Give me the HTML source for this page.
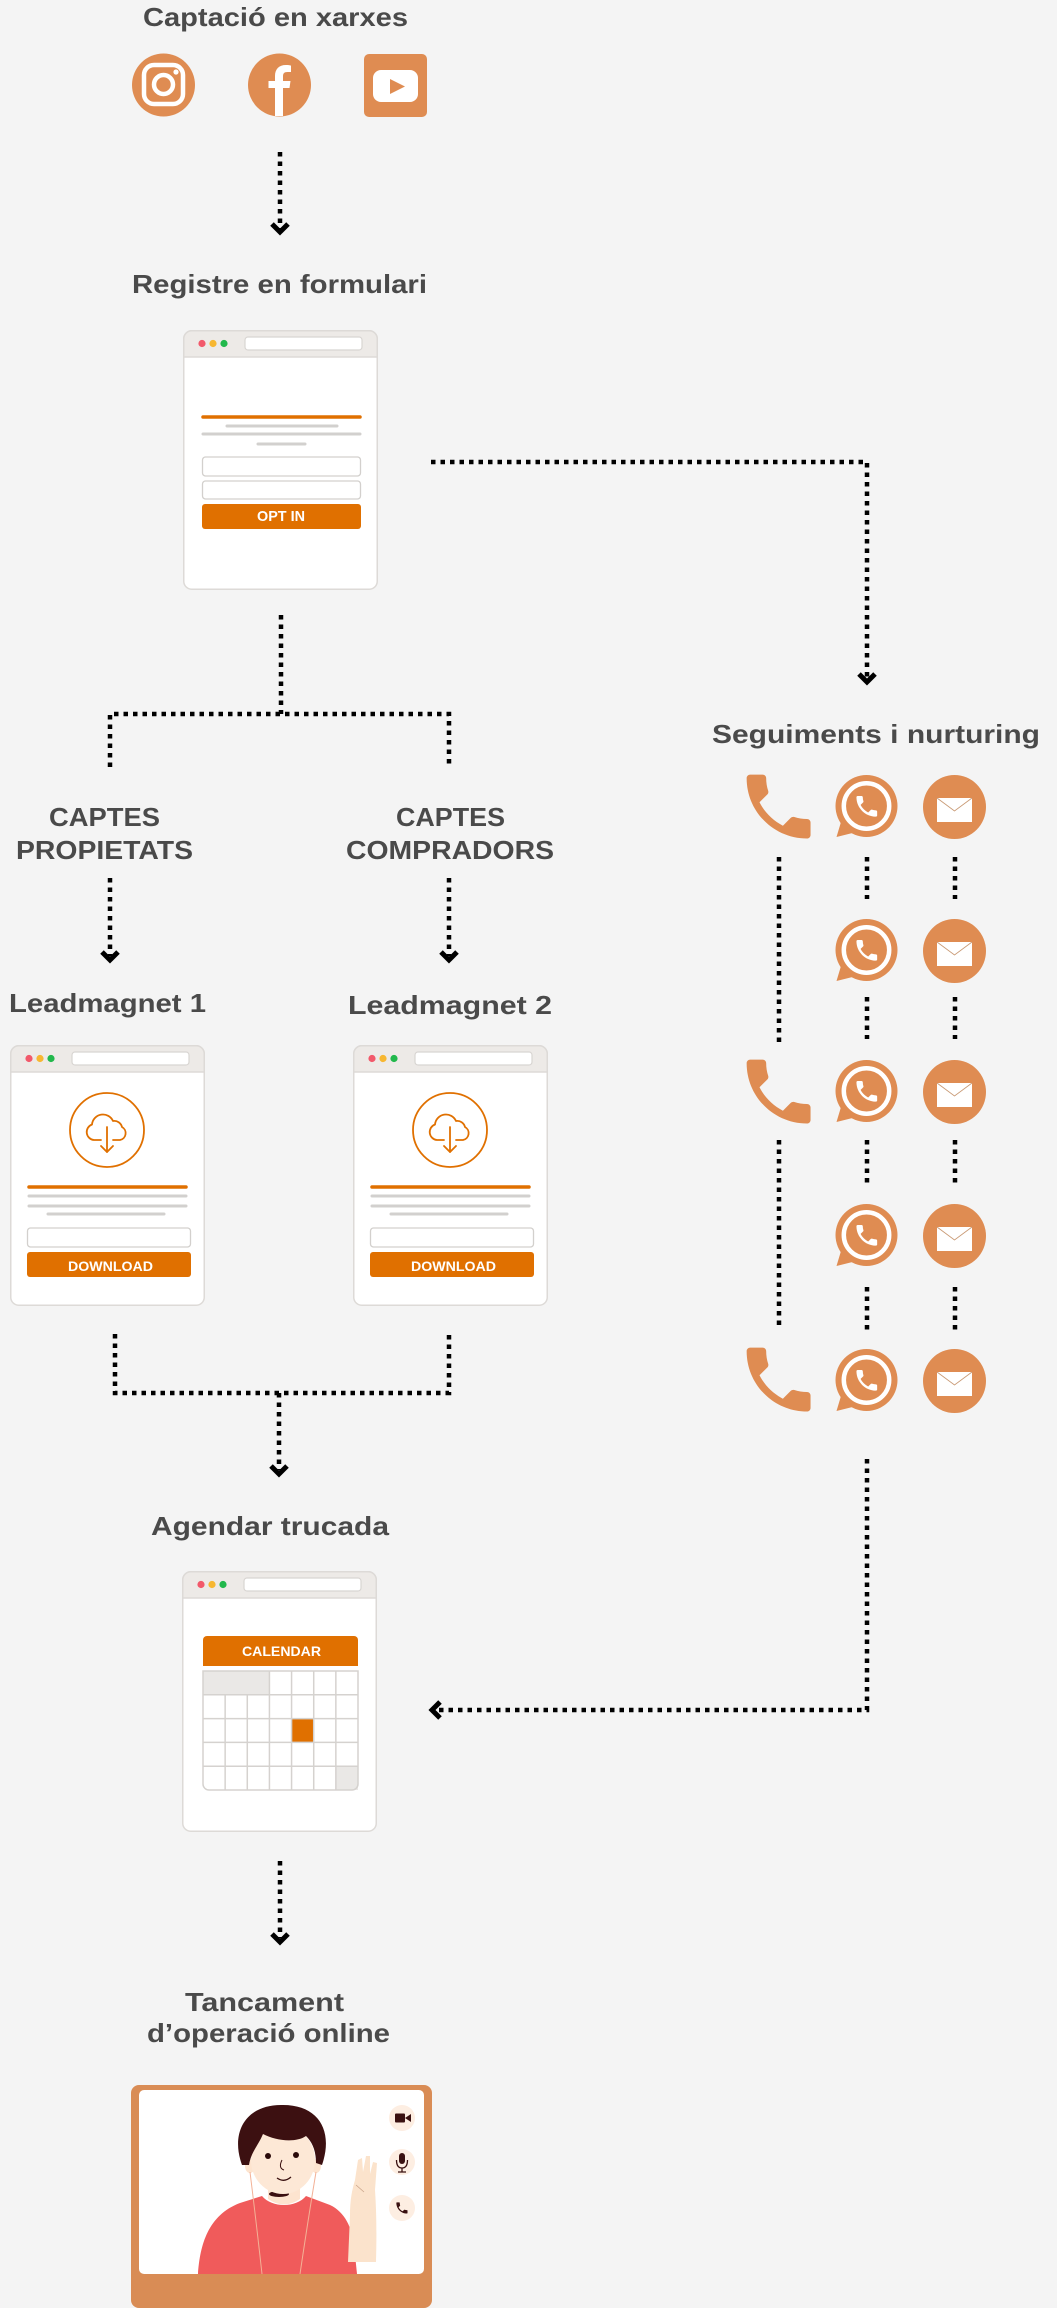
<!DOCTYPE html>
<html>
<head>
<meta charset="utf-8">
<style>
html,body{margin:0;padding:0;background:#f4f4f4;}
body{width:1057px;height:2308px;overflow:hidden;}
svg{display:block;}
.t{font-family:"Liberation Sans",Arial,sans-serif;font-weight:bold;font-size:26px;fill:#4a4a4a;}
.bt{font-family:"Liberation Sans",Arial,sans-serif;font-weight:bold;fill:#ffffff;}
.d{fill:none;stroke:#000;stroke-width:4.5;stroke-dasharray:4.5 5;}
.c{fill:none;stroke:#000;stroke-width:5;stroke-linejoin:miter;stroke-linecap:butt;}
.o{fill:#df8c52;}
.gl{stroke:#d2d0ce;stroke-width:3;stroke-linecap:round;}
.ol{stroke:#e07000;stroke-width:3.5;stroke-linecap:round;}
.inp{fill:#fff;stroke:#d3d0cd;stroke-width:1.3;}
.btn{fill:#e07000;}
</style>
</head>
<body>
<svg width="1057" height="2308" viewBox="0 0 1057 2308" xmlns="http://www.w3.org/2000/svg">
<rect x="0" y="0" width="1057" height="2308" fill="#f4f4f4"/>

<!-- ===== Title 1 ===== -->
<text class="t" x="143" y="26" textLength="265" lengthAdjust="spacingAndGlyphs">Captació en xarxes</text>

<!-- Instagram -->
<circle class="o" cx="163.5" cy="85" r="31.5"/>
<rect x="144" y="65" width="39" height="39" rx="10" fill="none" stroke="#fff" stroke-width="4.5"/>
<circle cx="163.5" cy="84.5" r="9.5" fill="none" stroke="#fff" stroke-width="4.5"/>
<circle cx="176" cy="72" r="2.6" fill="#fff"/>

<!-- Facebook -->
<circle class="o" cx="279.5" cy="85" r="31.5"/>
<path d="M275 116 V88 H268.5 V81 H275 V76 C275 69 279 65 286 65 C288 65 290 65.3 291 65.6 V72 H287.5 C284 72 283 73.5 283 76.5 V81 H290.5 L289.5 88 H283 V116 Z" fill="#fff"/>

<!-- YouTube -->
<rect class="o" x="364" y="54" width="63" height="63" rx="5"/>
<rect x="373" y="70" width="45" height="32" rx="8" fill="#fff"/>
<path d="M390 79 L405 86.5 L390 94 Z" fill="#df8c52"/>

<!-- Arrow 1 -->
<path class="d" d="M280 152 V229"/>
<polyline class="c" points="272,224 280,232 288,224"/>

<!-- ===== Registre en formulari ===== -->
<text class="t" x="132" y="293" textLength="295" lengthAdjust="spacingAndGlyphs">Registre en formulari</text>

<g transform="translate(183,330)">
  <rect x="0.75" y="0.75" width="193.5" height="258.5" rx="8" fill="#fff" stroke="#dddad7" stroke-width="1.5"/>
  <path d="M0.75 27 V8.75 A8 8 0 0 1 8.75 0.75 H186.25 A8 8 0 0 1 194.25 8.75 V27 Z" fill="#edeae7" stroke="#dddad7" stroke-width="1.5"/>
  <circle cx="19" cy="13.5" r="3.6" fill="#f2596b"/>
  <circle cx="30" cy="13.5" r="3.6" fill="#f7b731"/>
  <circle cx="41" cy="13.5" r="3.6" fill="#22b84c"/>
  <rect x="62" y="7" width="117" height="13" rx="3" fill="#fff" stroke="#d8d5d2" stroke-width="1.2"/>
  <line class="ol" x1="20" y1="87" x2="177" y2="87"/>
  <line class="gl" x1="44" y1="96" x2="154" y2="96"/>
  <line class="gl" x1="20" y1="104" x2="177" y2="104"/>
  <line class="gl" x1="75" y1="114" x2="122" y2="114"/>
  <rect class="inp" x="19.5" y="127" width="158" height="19" rx="3"/>
  <rect class="inp" x="19.5" y="151" width="158" height="18" rx="3"/>
  <rect class="btn" x="19" y="174" width="159" height="25" rx="3"/>
  <text class="bt" x="74" y="191" font-size="15" textLength="48" lengthAdjust="spacingAndGlyphs">OPT IN</text>
</g>

<!-- Form -> nurturing connector -->
<path class="d" d="M431 462 H867 V678"/>
<polyline class="c" points="859,674 867,682 875,674"/>

<!-- Form -> split connector -->
<path class="d" d="M281 615 V714"/>
<path class="d" d="M110 767 V714 H449 V767"/>

<!-- ===== CAPTES labels ===== -->
<text class="t" x="49" y="826" textLength="111" lengthAdjust="spacingAndGlyphs">CAPTES</text>
<text class="t" x="16" y="859" textLength="177" lengthAdjust="spacingAndGlyphs">PROPIETATS</text>
<text class="t" x="396" y="826" textLength="109" lengthAdjust="spacingAndGlyphs">CAPTES</text>
<text class="t" x="346" y="859" textLength="208" lengthAdjust="spacingAndGlyphs">COMPRADORS</text>

<path class="d" d="M110 878 V956"/>
<polyline class="c" points="102,952 110,960 118,952"/>
<path class="d" d="M449 878 V956"/>
<polyline class="c" points="441,952 449,960 457,952"/>

<!-- ===== Leadmagnets ===== -->
<text class="t" x="9" y="1012" textLength="197" lengthAdjust="spacingAndGlyphs">Leadmagnet 1</text>
<text class="t" x="348" y="1014" textLength="204" lengthAdjust="spacingAndGlyphs">Leadmagnet 2</text>

<g transform="translate(10,1045)">
  <rect x="0.75" y="0.75" width="193.5" height="259.5" rx="8" fill="#fff" stroke="#dddad7" stroke-width="1.5"/>
  <path d="M0.75 27 V8.75 A8 8 0 0 1 8.75 0.75 H186.25 A8 8 0 0 1 194.25 8.75 V27 Z" fill="#edeae7" stroke="#dddad7" stroke-width="1.5"/>
  <circle cx="19" cy="13.5" r="3.6" fill="#f2596b"/>
  <circle cx="30" cy="13.5" r="3.6" fill="#f7b731"/>
  <circle cx="41" cy="13.5" r="3.6" fill="#22b84c"/>
  <rect x="62" y="7" width="117" height="13" rx="3" fill="#fff" stroke="#d8d5d2" stroke-width="1.2"/>
  <circle cx="97" cy="85" r="37" fill="none" stroke="#e07000" stroke-width="1.8"/>
  <g transform="translate(97,85)" fill="none" stroke="#e07000" stroke-width="1.8" stroke-linecap="round" stroke-linejoin="round">
    <path d="M-6 10 H-13 A8 8 0 0 1 -15 -5.5 A11 11 0 0 1 6 -9 A8 8 0 0 1 15 -3 A7 7 0 0 1 13 10 H6"/>
    <path d="M0 -3 V22"/>
    <path d="M-6 16 L0 22 L6 16"/>
  </g>
  <line class="ol" x1="19" y1="142" x2="176" y2="142"/>
  <line class="gl" x1="19" y1="151" x2="176" y2="151"/>
  <line class="gl" x1="19" y1="161" x2="176" y2="161"/>
  <line class="gl" x1="38" y1="169" x2="154" y2="169"/>
  <rect class="inp" x="17.5" y="183" width="163" height="19" rx="3"/>
  <rect class="btn" x="17" y="207" width="164" height="25" rx="3"/>
  <text class="bt" x="58" y="226" font-size="14" textLength="85" lengthAdjust="spacingAndGlyphs">DOWNLOAD</text>
</g>

<g transform="translate(353,1045)">
  <rect x="0.75" y="0.75" width="193.5" height="259.5" rx="8" fill="#fff" stroke="#dddad7" stroke-width="1.5"/>
  <path d="M0.75 27 V8.75 A8 8 0 0 1 8.75 0.75 H186.25 A8 8 0 0 1 194.25 8.75 V27 Z" fill="#edeae7" stroke="#dddad7" stroke-width="1.5"/>
  <circle cx="19" cy="13.5" r="3.6" fill="#f2596b"/>
  <circle cx="30" cy="13.5" r="3.6" fill="#f7b731"/>
  <circle cx="41" cy="13.5" r="3.6" fill="#22b84c"/>
  <rect x="62" y="7" width="117" height="13" rx="3" fill="#fff" stroke="#d8d5d2" stroke-width="1.2"/>
  <circle cx="97" cy="85" r="37" fill="none" stroke="#e07000" stroke-width="1.8"/>
  <g transform="translate(97,85)" fill="none" stroke="#e07000" stroke-width="1.8" stroke-linecap="round" stroke-linejoin="round">
    <path d="M-6 10 H-13 A8 8 0 0 1 -15 -5.5 A11 11 0 0 1 6 -9 A8 8 0 0 1 15 -3 A7 7 0 0 1 13 10 H6"/>
    <path d="M0 -3 V22"/>
    <path d="M-6 16 L0 22 L6 16"/>
  </g>
  <line class="ol" x1="19" y1="142" x2="176" y2="142"/>
  <line class="gl" x1="19" y1="151" x2="176" y2="151"/>
  <line class="gl" x1="19" y1="161" x2="176" y2="161"/>
  <line class="gl" x1="38" y1="169" x2="154" y2="169"/>
  <rect class="inp" x="17.5" y="183" width="163" height="19" rx="3"/>
  <rect class="btn" x="17" y="207" width="164" height="25" rx="3"/>
  <text class="bt" x="58" y="226" font-size="14" textLength="85" lengthAdjust="spacingAndGlyphs">DOWNLOAD</text>
</g>

<!-- LM -> agendar connector -->
<path class="d" d="M115 1334 V1393 H449 V1334"/>
<path class="d" d="M279 1393 V1470"/>
<polyline class="c" points="271,1466 279,1474 287,1466"/>

<!-- ===== Seguiments i nurturing ===== -->
<text class="t" x="712" y="743" textLength="328" lengthAdjust="spacingAndGlyphs">Seguiments i nurturing</text>

<!-- column connectors -->
<path class="d" d="M779 857 V1044"/>
<path class="d" d="M779 1140 V1328"/>
<path class="d" d="M867 857 V899 M867 997 V1039 M867 1140 V1183 M867 1287 V1330"/>
<path class="d" d="M955 857 V899 M955 997 V1039 M955 1140 V1183 M955 1287 V1330"/>

<!-- phones -->
<path class="o" transform="translate(736,764) scale(3.55)" d="M6.62 10.79c1.44 2.83 3.76 5.14 6.59 6.59l2.2-2.2c.27-.27.67-.36 1.02-.24 1.12.37 2.33.57 3.57.57.55 0 1 .45 1 1V20c0 .55-.45 1-1 1-9.39 0-17-7.61-17-17 0-.55.45-1 1-1h3.5c.55 0 1 .45 1 1 0 1.25.2 2.45.57 3.57.11.35.03.74-.25 1.02l-2.2 2.2z"/>
<path class="o" transform="translate(736,1049) scale(3.55)" d="M6.62 10.79c1.44 2.83 3.76 5.14 6.59 6.59l2.2-2.2c.27-.27.67-.36 1.02-.24 1.12.37 2.33.57 3.57.57.55 0 1 .45 1 1V20c0 .55-.45 1-1 1-9.39 0-17-7.61-17-17 0-.55.45-1 1-1h3.5c.55 0 1 .45 1 1 0 1.25.2 2.45.57 3.57.11.35.03.74-.25 1.02l-2.2 2.2z"/>
<path class="o" transform="translate(736,1337) scale(3.55)" d="M6.62 10.79c1.44 2.83 3.76 5.14 6.59 6.59l2.2-2.2c.27-.27.67-.36 1.02-.24 1.12.37 2.33.57 3.57.57.55 0 1 .45 1 1V20c0 .55-.45 1-1 1-9.39 0-17-7.61-17-17 0-.55.45-1 1-1h3.5c.55 0 1 .45 1 1 0 1.25.2 2.45.57 3.57.11.35.03.74-.25 1.02l-2.2 2.2z"/>

<!-- whatsapp icons -->
<g transform="translate(866.5,807)">
  <circle class="o" cx="0" cy="-1" r="31"/><path class="o" d="M-24 10 L-30 30 L-10 25 Z"/>
  <circle cx="0" cy="-1" r="22.7" fill="none" stroke="#fff" stroke-width="4.5"/>
  <path fill="#fff" transform="translate(-13.5,-14.5) scale(1.15)" d="M6.62 10.79c1.44 2.83 3.76 5.14 6.59 6.59l2.2-2.2c.27-.27.67-.36 1.02-.24 1.12.37 2.33.57 3.57.57.55 0 1 .45 1 1V20c0 .55-.45 1-1 1-9.39 0-17-7.61-17-17 0-.55.45-1 1-1h3.5c.55 0 1 .45 1 1 0 1.25.2 2.45.57 3.57.11.35.03.74-.25 1.02l-2.2 2.2z"/>
</g>
<g transform="translate(866.5,951)">
  <circle class="o" cx="0" cy="-1" r="31"/><path class="o" d="M-24 10 L-30 30 L-10 25 Z"/>
  <circle cx="0" cy="-1" r="22.7" fill="none" stroke="#fff" stroke-width="4.5"/>
  <path fill="#fff" transform="translate(-13.5,-14.5) scale(1.15)" d="M6.62 10.79c1.44 2.83 3.76 5.14 6.59 6.59l2.2-2.2c.27-.27.67-.36 1.02-.24 1.12.37 2.33.57 3.57.57.55 0 1 .45 1 1V20c0 .55-.45 1-1 1-9.39 0-17-7.61-17-17 0-.55.45-1 1-1h3.5c.55 0 1 .45 1 1 0 1.25.2 2.45.57 3.57.11.35.03.74-.25 1.02l-2.2 2.2z"/>
</g>
<g transform="translate(866.5,1092)">
  <circle class="o" cx="0" cy="-1" r="31"/><path class="o" d="M-24 10 L-30 30 L-10 25 Z"/>
  <circle cx="0" cy="-1" r="22.7" fill="none" stroke="#fff" stroke-width="4.5"/>
  <path fill="#fff" transform="translate(-13.5,-14.5) scale(1.15)" d="M6.62 10.79c1.44 2.83 3.76 5.14 6.59 6.59l2.2-2.2c.27-.27.67-.36 1.02-.24 1.12.37 2.33.57 3.57.57.55 0 1 .45 1 1V20c0 .55-.45 1-1 1-9.39 0-17-7.61-17-17 0-.55.45-1 1-1h3.5c.55 0 1 .45 1 1 0 1.25.2 2.45.57 3.57.11.35.03.74-.25 1.02l-2.2 2.2z"/>
</g>
<g transform="translate(866.5,1236)">
  <circle class="o" cx="0" cy="-1" r="31"/><path class="o" d="M-24 10 L-30 30 L-10 25 Z"/>
  <circle cx="0" cy="-1" r="22.7" fill="none" stroke="#fff" stroke-width="4.5"/>
  <path fill="#fff" transform="translate(-13.5,-14.5) scale(1.15)" d="M6.62 10.79c1.44 2.83 3.76 5.14 6.59 6.59l2.2-2.2c.27-.27.67-.36 1.02-.24 1.12.37 2.33.57 3.57.57.55 0 1 .45 1 1V20c0 .55-.45 1-1 1-9.39 0-17-7.61-17-17 0-.55.45-1 1-1h3.5c.55 0 1 .45 1 1 0 1.25.2 2.45.57 3.57.11.35.03.74-.25 1.02l-2.2 2.2z"/>
</g>
<g transform="translate(866.5,1381)">
  <circle class="o" cx="0" cy="-1" r="31"/><path class="o" d="M-24 10 L-30 30 L-10 25 Z"/>
  <circle cx="0" cy="-1" r="22.7" fill="none" stroke="#fff" stroke-width="4.5"/>
  <path fill="#fff" transform="translate(-13.5,-14.5) scale(1.15)" d="M6.62 10.79c1.44 2.83 3.76 5.14 6.59 6.59l2.2-2.2c.27-.27.67-.36 1.02-.24 1.12.37 2.33.57 3.57.57.55 0 1 .45 1 1V20c0 .55-.45 1-1 1-9.39 0-17-7.61-17-17 0-.55.45-1 1-1h3.5c.55 0 1 .45 1 1 0 1.25.2 2.45.57 3.57.11.35.03.74-.25 1.02l-2.2 2.2z"/>
</g>

<!-- email icons -->
<g transform="translate(954.5,807)">
  <ellipse class="o" cx="0" cy="0" rx="31.5" ry="32"/>
  <rect x="-17.5" y="-9" width="35" height="24" fill="#fff"/>
  <polyline points="-17.5,-9 0,4 17.5,-9" fill="none" stroke="#c99a75" stroke-width="0.9"/>
</g>
<g transform="translate(954.5,951)">
  <ellipse class="o" cx="0" cy="0" rx="31.5" ry="32"/>
  <rect x="-17.5" y="-9" width="35" height="24" fill="#fff"/>
  <polyline points="-17.5,-9 0,4 17.5,-9" fill="none" stroke="#c99a75" stroke-width="0.9"/>
</g>
<g transform="translate(954.5,1092)">
  <ellipse class="o" cx="0" cy="0" rx="31.5" ry="32"/>
  <rect x="-17.5" y="-9" width="35" height="24" fill="#fff"/>
  <polyline points="-17.5,-9 0,4 17.5,-9" fill="none" stroke="#c99a75" stroke-width="0.9"/>
</g>
<g transform="translate(954.5,1236)">
  <ellipse class="o" cx="0" cy="0" rx="31.5" ry="32"/>
  <rect x="-17.5" y="-9" width="35" height="24" fill="#fff"/>
  <polyline points="-17.5,-9 0,4 17.5,-9" fill="none" stroke="#c99a75" stroke-width="0.9"/>
</g>
<g transform="translate(954.5,1381)">
  <ellipse class="o" cx="0" cy="0" rx="31.5" ry="32"/>
  <rect x="-17.5" y="-9" width="35" height="24" fill="#fff"/>
  <polyline points="-17.5,-9 0,4 17.5,-9" fill="none" stroke="#c99a75" stroke-width="0.9"/>
</g>

<!-- nurturing -> agendar connector -->
<path class="d" d="M867 1459 V1710 H436"/>
<polyline class="c" points="440,1702 432,1710 440,1718"/>

<!-- ===== Agendar trucada ===== -->
<text class="t" x="151" y="1535" textLength="238" lengthAdjust="spacingAndGlyphs">Agendar trucada</text>

<g transform="translate(182,1571)">
  <rect x="0.75" y="0.75" width="193.5" height="259.5" rx="8" fill="#fff" stroke="#dddad7" stroke-width="1.5"/>
  <path d="M0.75 27 V8.75 A8 8 0 0 1 8.75 0.75 H186.25 A8 8 0 0 1 194.25 8.75 V27 Z" fill="#edeae7" stroke="#dddad7" stroke-width="1.5"/>
  <circle cx="19" cy="13.5" r="3.6" fill="#f2596b"/>
  <circle cx="30" cy="13.5" r="3.6" fill="#f7b731"/>
  <circle cx="41" cy="13.5" r="3.6" fill="#22b84c"/>
  <rect x="62" y="7" width="117" height="13" rx="3" fill="#fff" stroke="#d8d5d2" stroke-width="1.2"/>
</g>
<path d="M203 1666 V1640 A4 4 0 0 1 207 1636 H354 A4 4 0 0 1 358 1640 V1666 Z" fill="#e07000"/>
<text class="bt" x="242" y="1656" font-size="14" textLength="79" lengthAdjust="spacingAndGlyphs">CALENDAR</text>
<!-- grid -->
<rect x="203" y="1671" width="66.43" height="23.8" fill="#eae8e6"/>
<rect x="291.57" y="1718.6" width="22.14" height="23.8" fill="#e07000"/>
<rect x="335.86" y="1766.2" width="22.14" height="23.8" fill="#eae8e6"/>
<g stroke="#d5d2cf" stroke-width="1.5" fill="none">
  <path d="M225.14 1694.8 V1790 M247.29 1694.8 V1790 M269.43 1671 V1790 M291.57 1671 V1790 M313.71 1671 V1790 M335.86 1671 V1790"/>
  <path d="M203 1694.8 H358 M203 1718.6 H358 M203 1742.4 H358 M203 1766.2 H358"/>
  <path d="M203 1671 H358 V1784 A6 6 0 0 1 352 1790 H209 A6 6 0 0 1 203 1784 Z"/>
</g>

<!-- calendar -> closing arrow -->
<path class="d" d="M280 1861 V1938"/>
<polyline class="c" points="272,1934 280,1942 288,1934"/>

<!-- ===== Tancament ===== -->
<text class="t" x="185" y="2011" textLength="159" lengthAdjust="spacingAndGlyphs">Tancament</text>
<text class="t" x="147" y="2042" textLength="243" lengthAdjust="spacingAndGlyphs">d’operació online</text>

<!-- video call frame -->
<rect x="131" y="2085" width="301" height="223" rx="8" fill="#d98c55"/>
<rect x="139" y="2090" width="285" height="184" rx="5" fill="#ffffff"/>
<defs>
  <clipPath id="vc"><rect x="139" y="2090" width="285" height="184" rx="5"/></clipPath>
</defs>
<g clip-path="url(#vc)">
  <!-- shirt -->
  <path d="M198 2274 C200 2245 208 2215 240 2203 L262 2196 C272 2208 296 2208 306 2196 L330 2205 C345 2212 352 2228 354 2245 L357 2274 Z" fill="#f05b5b"/>
  <!-- neck -->
  <path d="M268 2178 L268 2199 Q284 2210 300 2199 L300 2178 Z" fill="#fde4cf"/>
  <ellipse cx="279" cy="2194" rx="10" ry="3" fill="#3b0f10"/>
  <!-- ears -->
  <ellipse cx="250" cy="2166" rx="5" ry="7" fill="#fde4cf"/>
  <ellipse cx="316" cy="2166" rx="5" ry="7" fill="#fde4cf"/>
  <!-- face -->
  <ellipse cx="283" cy="2160" rx="32" ry="34" fill="#fde8d6"/>
  <!-- hair -->
  <path d="M242 2165 C230 2132 246 2105 281 2105 C318 2104 334 2130 322 2165 L316 2163 C316 2150 312 2142 306 2136 C296 2143 276 2141 263 2134 C258 2146 251 2152 249 2165 Z" fill="#3c1011"/>
  <!-- eyes -->
  <circle cx="268" cy="2156" r="3" fill="#2a0a0a"/>
  <circle cx="296" cy="2155" r="3" fill="#2a0a0a"/>
  <path d="M282 2160 Q278 2168 284 2170" fill="none" stroke="#3a1010" stroke-width="1"/>
  <path d="M277 2178 Q284 2183 291 2177" fill="none" stroke="#3a1010" stroke-width="1.3"/>
  <!-- earphone cords -->
  <path d="M250 2172 Q256 2220 262 2274" fill="none" stroke="#f3b196" stroke-width="1"/>
  <path d="M316 2172 Q308 2220 300 2274" fill="none" stroke="#f3b196" stroke-width="1"/>
  <!-- raised arm -->
  <path d="M348 2262 L350 2215 C350 2200 352 2190 355 2180 L358 2160 L362 2158 L363 2172 L366 2156 L370 2156 L370 2174 L373 2162 L377 2163 L375 2190 C376 2205 377 2225 376 2262 Z" fill="#fbe3cc"/>
  <path d="M356 2185 L364 2192" stroke="#c9a58a" stroke-width="0.8"/>
  <!-- right control icons -->
  <circle cx="402" cy="2118" r="13" fill="#fdeee2"/>
  <rect x="395" y="2113.5" width="10" height="9" rx="1" fill="#3a1111"/>
  <path d="M405 2118 L411 2114 V2122 Z" fill="#3a1111"/>
  <circle cx="402" cy="2162" r="13" fill="#fdeee2"/>
  <rect x="399" y="2153" width="6" height="11" rx="3" fill="#3a1111"/>
  <path d="M396.5 2160 Q396.5 2168 402 2168 Q407.5 2168 407.5 2160" fill="none" stroke="#3a1111" stroke-width="1.3"/>
  <path d="M402 2168 V2172 M398 2172 H406" stroke="#3a1111" stroke-width="1.3"/>
  <circle cx="402" cy="2208" r="13" fill="#fdeee2"/>
  <path fill="#3a1111" transform="translate(394.5,2200.5) scale(0.62)" d="M6.62 10.79c1.44 2.83 3.76 5.140 6.59 6.59l2.2-2.2c.27-.27.67-.36 1.02-.24 1.12.37 2.33.57 3.57.57.55 0 1 .45 1 1V20c0 .55-.45 1-1 1-9.39 0-17-7.61-17-17 0-.55.45-1 1-1h3.5c.55 0 1 .45 1 1 0 1.25.2 2.45.57 3.57.11.35.03.74-.25 1.02l-2.2 2.2z"/>
</g>
</svg>
</body>
</html>
